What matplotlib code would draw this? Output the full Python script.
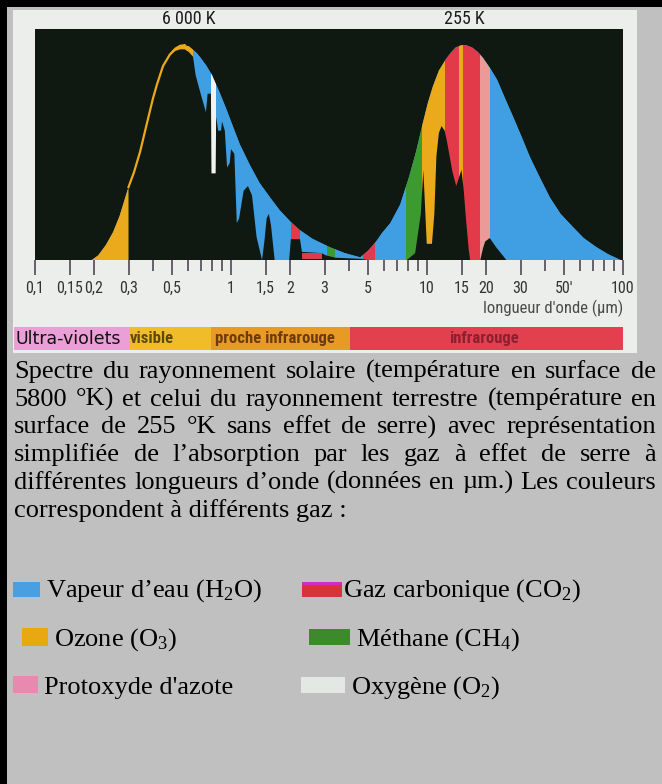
import matplotlib
matplotlib.use("Agg")
import matplotlib.pyplot as plt
from matplotlib.patches import Rectangle
from matplotlib.ticker import LogLocator, NullFormatter
from matplotlib import font_manager

# envelopes (normalised height)
sun_wl = [0.195, 0.21, 0.23, 0.25, 0.27, 0.30, 0.32, 0.344, 0.372, 0.40, 0.419, 0.45, 0.488,
          0.52, 0.55, 0.58, 0.61, 0.64, 0.67, 0.70, 0.75, 0.80, 0.88, 0.95, 1.0, 1.11, 1.25,
          1.4, 1.6, 1.77, 2.0, 2.24, 2.6, 3.18, 3.8, 4.5, 5.1]
sun_h = [0.0, 0.02, 0.065, 0.12, 0.19, 0.316, 0.38, 0.47, 0.59, 0.70, 0.76, 0.84, 0.89,
         0.915, 0.927, 0.93, 0.925, 0.91, 0.895, 0.875, 0.84, 0.80, 0.72, 0.65, 0.60, 0.50,
         0.41, 0.333, 0.265, 0.216, 0.168, 0.13, 0.092, 0.056, 0.03, 0.013, 0.0]
earth_wl = [4.4, 5.0, 5.5, 5.9, 6.5, 7.3, 8.1, 8.8, 9.5, 10.1, 10.7, 11.5, 12.5, 13.3, 14.0,
            15.0, 15.8, 17.0, 18.2, 19.3, 21.0, 22.8, 25.0, 27.5, 30.5, 33.5, 38.0, 42.4,
            48.0, 55.5, 63.0, 73.0, 84.0, 97.0]
earth_h = [0.0, 0.04, 0.08, 0.117, 0.16, 0.24, 0.36, 0.47, 0.59, 0.68, 0.75, 0.82, 0.87,
           0.90, 0.92, 0.93, 0.93, 0.92, 0.90, 0.875, 0.83, 0.78, 0.70, 0.62, 0.53, 0.446,
           0.35, 0.27, 0.20, 0.143, 0.095, 0.056, 0.025, 0.0]

# what gets through the atmosphere (black)
sun_tr_wl = [0.30, 0.30, 0.32, 0.344, 0.372, 0.40, 0.419, 0.45, 0.488, 0.52, 0.55, 0.58,
             0.61, 0.64, 0.66, 0.70, 0.745, 0.76, 0.79, 0.795, 0.835, 0.84, 0.86, 0.89, 0.90,
             0.93, 0.955, 0.985, 1.0, 1.04, 1.07, 1.10, 1.16, 1.22, 1.28, 1.35, 1.44, 1.48,
             1.52, 1.56, 1.60, 1.67, 1.98, 2.02, 2.25, 2.30, 2.9, 3.05, 3.4, 4.6, 5.0]
sun_tr_h = [0.0, 0.316, 0.38, 0.47, 0.59, 0.70, 0.76, 0.84, 0.885, 0.905, 0.912, 0.912,
            0.90, 0.88, 0.80, 0.72, 0.64, 0.72, 0.72, 0.375, 0.375, 0.62, 0.56, 0.56, 0.60,
            0.56, 0.40, 0.42, 0.48, 0.46, 0.16, 0.18, 0.30, 0.32, 0.28, 0.10, 0.0, 0.08,
            0.18, 0.20, 0.15, 0.0, 0.0, 0.09, 0.09, 0.035, 0.03, 0.02, 0.01, 0.005, 0.0]
earth_tr_wl = [7.9, 8.7, 9.3, 9.58, 9.75, 9.97, 10.6, 10.9, 11.17, 11.5, 11.86, 12.3, 12.6,
               13.5, 14.1, 14.6, 15.0, 15.4, 15.8, 16.3, 16.6, 18.7, 19.3, 19.8, 20.9, 22.5, 25.4]
earth_tr_h = [0.0, 0.03, 0.2, 0.39, 0.25, 0.07, 0.07, 0.2, 0.45, 0.55, 0.58, 0.56, 0.52,
              0.38, 0.32, 0.36, 0.39, 0.3, 0.18, 0.05, 0.0, 0.0, 0.05, 0.08, 0.095, 0.056, 0.0]

# absorption bands: gas, from, to (µm)
band_gas = ['O3', 'H2O', 'O2', 'CO2', 'H2O', 'CH4', 'H2O', 'CO2', 'H2O', 'CH4', 'O3',
            'CO2', 'O3', 'N2O', 'H2O']
band_lo = [0.19, 0.64, 0.795, 2.02, 2.26, 3.1, 3.4, 4.7, 5.4, 7.8, 9.45, 12.3, 14.6, 18.7, 20.9]
band_hi = [0.64, 2.02, 0.835, 2.26, 3.1, 3.4, 4.7, 5.4, 7.8, 9.45, 12.3, 18.7, 15.3, 20.9, 100]

gases = ['H2O', 'CO2', 'O3', 'CH4', 'N2O', 'O2']
gas_colors = ['#3f9fe2', '#e23a48', '#eaaa1c', '#3c9a30', '#ec9a98', '#f2f2f0']
gas_col = dict(zip(gases, gas_colors))

tick_vals = [0.1, 0.15, 0.2, 0.3, 0.5, 1, 1.5, 2, 3, 5, 10, 15, 20, 30, 50, 100]
tick_labels = ['0,1', '0,15', '0,2', '0,3', '0,5', '1', '1,5', '2', '3', '5',
               '10', '15', '20', '30', "50'", '100']

region_names = ['Ultra-violets', 'visible', 'proche infrarouge', 'infrarouge']
region_edges = [0.078, 0.30, 0.79, 4.05, 100]
region_colors = ['#eaa0d6', '#f0bc2a', '#e89a22', '#e2404e']

caption = ["Spectre du rayonnement solaire (température en surface de",
           "5800 °K) et celui du rayonnement terrestre (température en",
           "surface de 255 °K sans effet de serre) avec représentation",
           "simplifiée de l’absorption par les gaz à effet de serre à",
           "différentes longueurs d’onde (données en µm.) Les couleurs",
           "correspondent à différents gaz :"]

legend_labels = ['Vapeur d’eau (H$\\mathrm{_2}$O)', 'Gaz carbonique (CO$\\mathrm{_2}$)',
                 'Ozone (O$\\mathrm{_3}$)', 'Méthane (CH$\\mathrm{_4}$)',
                 "Protoxyde d'azote", 'Oxygène (O$\\mathrm{_2}$)']
legend_colors = ['#4a9fe0', '#d8323c', '#e8a812', '#3c8a2c', '#e88ab0', '#e4e8e4']

W, H = 662, 784
names = {f.name for f in font_manager.fontManager.ttflist}
narrow = 'DejaVu Sans'
for cand in ('Liberation Sans Narrow', 'DejaVu Sans Condensed', 'Roboto Condensed',
             'Open Sans Condensed'):
    if cand in names:
        narrow = cand
        break
nsize = 11.5 if narrow != 'DejaVu Sans' else 9.5
serif = 'Liberation Serif'
plt.rcParams['mathtext.fontset'] = 'custom'
plt.rcParams['mathtext.rm'] = serif
plt.rcParams['mathtext.it'] = serif

fig = plt.figure(figsize=(W / 100, H / 100), dpi=100)
fig.patch.set_facecolor('#c0c0c0')


def px_rect(x0, y0, x1, y1, color, z=-5):
    fig.add_artist(Rectangle((x0 / W, 1 - y1 / H), (x1 - x0) / W, (y1 - y0) / H,
                             transform=fig.transFigure, color=color, lw=0, zorder=z))


px_rect(0, 0, 7, H, 'black')
px_rect(0, 0, W, 7, 'black')
px_rect(13, 10, 637, 353, '#eceeec')

ax = fig.add_axes([35 / W, 1 - 260 / H, 588 / W, 231 / H])
ax.set_facecolor('#0f1811')
ax.set_xscale('log')
ax.set_xlim(0.1, 100)
ax.set_ylim(0, 1)
for s in ax.spines.values():
    s.set_visible(False)

envs = []
for wl, h in ((sun_wl, sun_h), (earth_wl, earth_h)):
    envs.append(ax.fill(wl, h, color=gas_col['H2O'], lw=0, zorder=1)[0])

for gas, lo, hi in zip(band_gas, band_lo, band_hi):
    for env in envs:
        sp = ax.axvspan(lo, hi, color=gas_col[gas], lw=0, zorder=2)
        sp.set_clip_path(env)

ax.fill(sun_tr_wl, sun_tr_h, color='#0f1811', lw=0, zorder=3)
ax.fill(earth_tr_wl, earth_tr_h, color='#0f1811', lw=0, zorder=3)

flank = [(w, h) for w, h in zip(sun_wl, sun_h) if 0.3 <= w <= 0.6]
ax.plot([p[0] for p in flank], [p[1] for p in flank], color=gas_col['O3'], lw=1.6, zorder=4)
ax.fill_between([2.3, 2.9], 0.005, 0.03, color=gas_col['CO2'], lw=0, zorder=4)

ax.set_yticks([])
ax.set_xticks(tick_vals, tick_labels)
ax.xaxis.set_minor_locator(LogLocator(base=10, subs=(4, 6, 7, 8, 9)))
ax.xaxis.set_minor_formatter(NullFormatter())
ax.tick_params(axis='x', which='major', length=11, width=1.3, color='#5a5560',
               pad=4, labelsize=nsize, labelcolor='#333333')
ax.tick_params(axis='x', which='minor', length=8, width=1.3, color='#5a5560')
for lab in ax.get_xticklabels():
    lab.set_family(narrow)

fig.text(189 / W, 1 - 19 / H, '6 000 K', ha='center', va='center', fontsize=nsize + 1.5,
         family=narrow, color='#1c1c1c')
fig.text(464 / W, 1 - 19 / H, '255 K', ha='center', va='center', fontsize=nsize + 1.5,
         family=narrow, color='#1c1c1c')
fig.text(623 / W, 1 - 308 / H, "longueur d'onde (µm)", ha='right', va='center',
         fontsize=nsize + 0.5, family=narrow, color='#4a4a4a')

# spectral regions bar
axb = fig.add_axes([14 / W, 1 - 350 / H, 609 / W, 23 / H])
axb.set_xscale('log')
axb.set_xlim(region_edges[0], region_edges[-1])
axb.set_ylim(-0.5, 0.5)
axb.barh(0, [b - a for a, b in zip(region_edges[:-1], region_edges[1:])],
         left=region_edges[:-1], height=1, color=region_colors, lw=0)
axb.axis('off')
axb.text(0.0795, 0, region_names[0], va='center', ha='left', fontsize=12.5,
         family='DejaVu Sans', color='#111111')
axb.text(0.305, 0, region_names[1], va='center', ha='left', fontsize=nsize + 0.5,
         family=narrow, weight='bold', color='#5a4a10')
axb.text(0.83, 0, region_names[2], va='center', ha='left', fontsize=nsize + 0.5,
         family=narrow, weight='bold', color='#6a3a10')
axb.text(19.5, 0, region_names[3], va='center', ha='center', fontsize=nsize + 0.5,
         family=narrow, weight='bold', color='#8a2030')

# justified caption
renderer = fig.canvas.get_renderer()
fs = 19
x0, x1 = 14, 656
for i, line in enumerate(caption):
    yb = 1 - (378 + 27.7 * i) / H
    if i == len(caption) - 1:
        fig.text(x0 / W, yb, line, fontsize=fs, family=serif, va='baseline')
        continue
    words = line.split(' ')
    texts = [fig.text(0, yb, w, fontsize=fs, family=serif, va='baseline') for w in words]
    widths = [t.get_window_extent(renderer).width for t in texts]
    gap = (x1 - x0 - sum(widths)) / (len(words) - 1)
    x = x0
    for t, w in zip(texts, widths):
        t.set_x(x / W)
        x += w + gap

# legend
sw = [(13, 582, 40, 597), (302, 582, 342, 597), (22, 628, 48, 646),
      (309, 629, 350, 645), (13, 676, 38, 693), (301, 677, 345, 693)]
tx = [46, 343, 54, 356, 44, 351]
base = [597, 597, 646, 646, 694, 694]
for lab, col, (a, b, c, d), x, y in zip(legend_labels, legend_colors, sw, tx, base):
    px_rect(a, b, c, d, col, z=1)
    fig.text(x / W, 1 - y / H, lab, fontsize=fs, family=serif, va='baseline')
px_rect(302, 582, 342, 585, '#d02cc0', z=2)

fig.savefig('out.png', dpi=100, facecolor=fig.get_facecolor())
